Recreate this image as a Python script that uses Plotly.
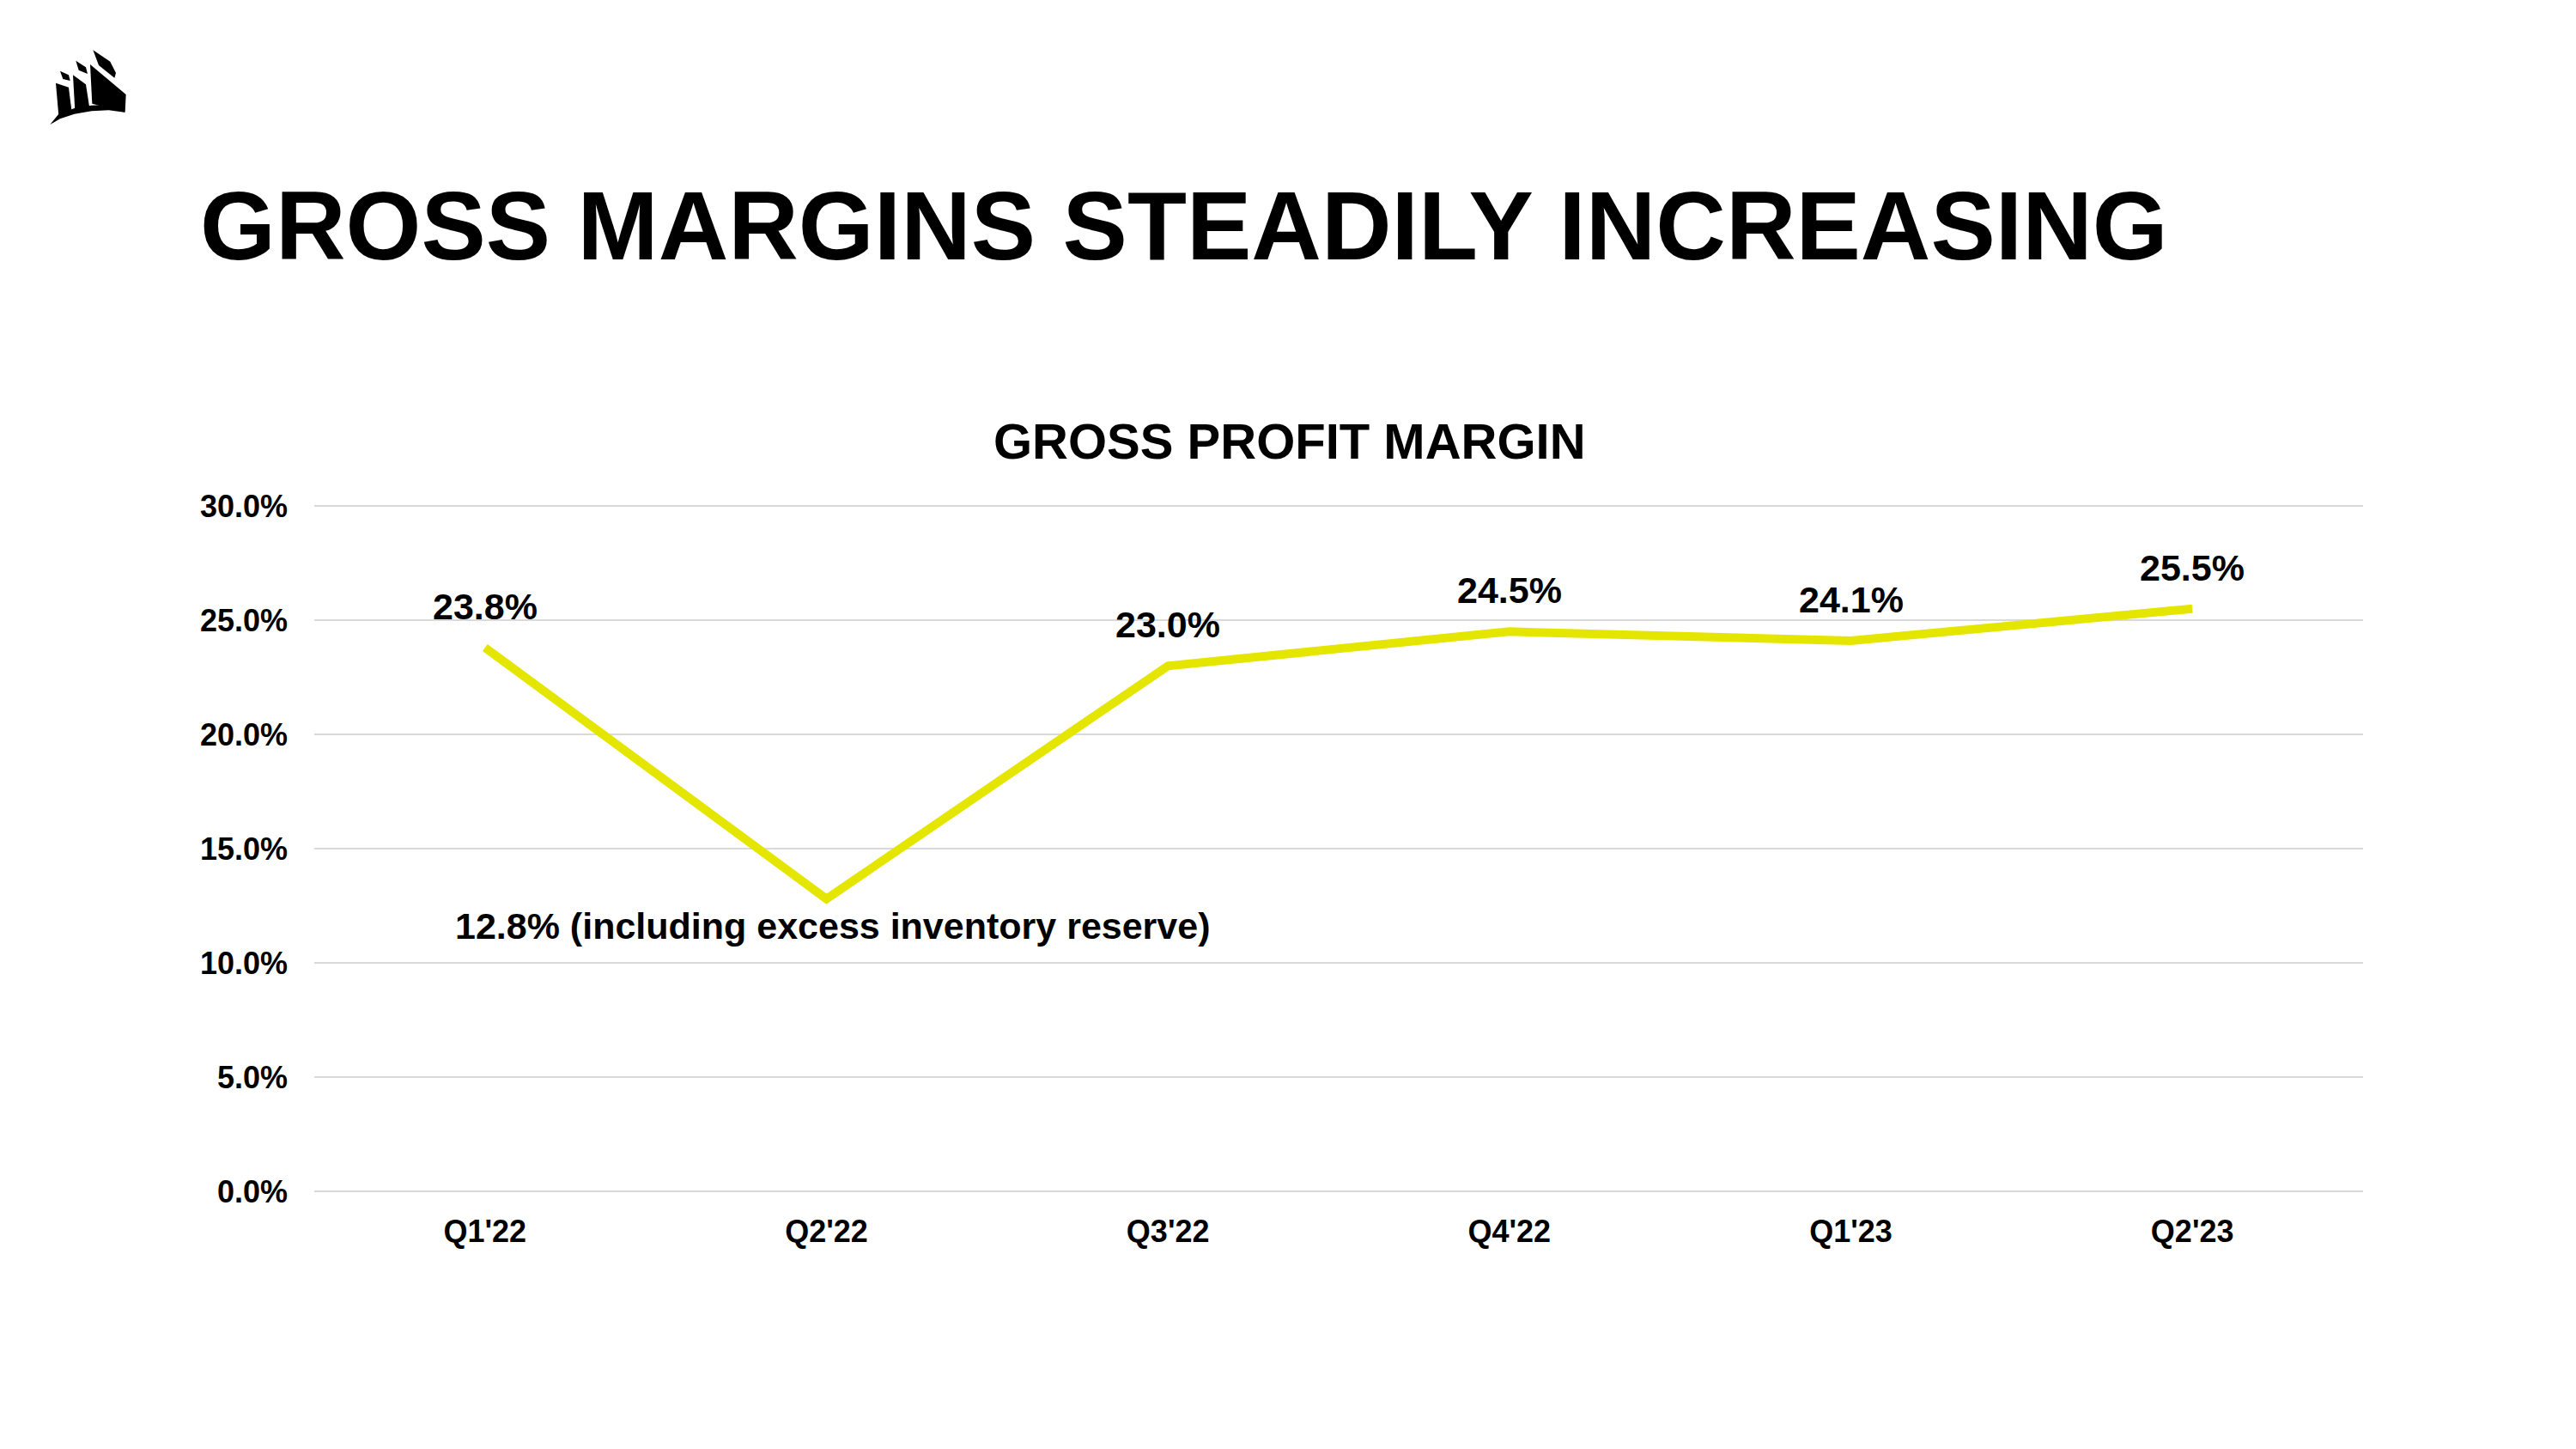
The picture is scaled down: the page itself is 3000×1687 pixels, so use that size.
import plotly.graph_objects as go

# ---- data ----
quarters = ["Q1'22", "Q2'22", "Q3'22", "Q4'22", "Q1'23", "Q2'23"]
gross_margin = [23.8, 12.8, 23.0, 24.5, 24.1, 25.5]
point_labels = ["23.8%", "12.8% (including excess inventory reserve)", "23.0%", "24.5%", "24.1%", "25.5%"]
y_ticks = [0, 5, 10, 15, 20, 25, 30]
page_title = "GROSS MARGINS STEADILY INCREASING"
chart_title = "GROSS PROFIT MARGIN"

# ---- layout geometry (pixels, compensating 8px page body margin) ----
OFF = 8
W_FIG, H_FIG = 3000, 1687
L, R, T, B = 366 - OFF, 2752 - OFF, 588 - OFF, 1387 - OFF
PW, PH = R - L, B - T


def px2x(px):
    return (px - OFF - L) / PW


def py2y(py):
    return (B - (py - OFF)) / PH


FONT = "Liberation Sans, Arial, sans-serif"
LINE_COLOR = "#E5E600"

fig = go.Figure()
fig.add_trace(go.Scatter(
    x=quarters, y=gross_margin, mode="lines",
    line=dict(color=LINE_COLOR, width=10),
    hoverinfo="skip", showlegend=False,
))

annotations = []
for i, (q, v, lab) in enumerate(zip(quarters, gross_margin, point_labels)):
    if i == 1:
        xs, ys = 7, -31
    else:
        xs, ys = 0, 48
    annotations.append(dict(
        x=q, y=v, xref="x", yref="y", text=lab, showarrow=False,
        xanchor="center", yanchor="middle", xshift=xs, yshift=ys,
        font=dict(family=FONT, size=43, color="black", weight="bold"),
    ))

annotations.append(dict(
    x=px2x(231), y=py2y(263), xref="paper", yref="paper", text=page_title,
    showarrow=False, xanchor="left", yanchor="middle",
    font=dict(family=FONT, size=113, color="black", weight="bold"),
))
annotations.append(dict(
    x=px2x(1502), y=py2y(513), xref="paper", yref="paper", text=chart_title,
    showarrow=False, xanchor="center", yanchor="middle",
    font=dict(family=FONT, size=58, color="black", weight="bold"),
))

# ---- logo (approximate sails), coordinates in pixel*3 zoom units ----
def path_from(points, closed=True):
    parts = []
    for j, (zx, zy) in enumerate(points):
        X, Y = px2x(zx / 3), py2y(zy / 3)
        parts.append(("M" if j == 0 else "L") + f"{X:.5f},{Y:.5f}")
    return " ".join(parts) + (" Z" if closed else "")

logo_polys = [
    [(195, 290), (240, 305), (250, 385), (205, 405)],
    [(255, 262), (300, 295), (312, 372), (262, 388)],
    [(315, 225), (440, 330), (437, 392), (322, 362)],
    [(325, 175), (385, 215), (405, 255), (400, 272), (345, 228)],
    [(265, 212), (300, 235), (306, 258), (275, 245)],
    [(210, 248), (240, 262), (245, 282), (220, 276)],
    [(175, 435), (210, 415), (260, 398), (320, 388), (380, 385), (435, 392),
     (435, 372), (380, 366), (320, 368), (260, 378), (205, 398)],
]
shapes = []
for poly in logo_polys:
    shapes.append(dict(type="path", xref="paper", yref="paper",
                       path=path_from(poly), fillcolor="black",
                       line=dict(width=0)))

fig.update_layout(
    width=W_FIG, height=H_FIG,
    margin=dict(l=L, r=W_FIG - R, t=T, b=H_FIG - B, pad=0),
    paper_bgcolor="white", plot_bgcolor="white",
    showlegend=False,
    annotations=annotations,
    shapes=shapes,
    xaxis=dict(
        type="category", range=[-0.5, 5.5], showgrid=False, zeroline=False,
        showline=False, ticks="", ticklabelstandoff=22,
        tickfont=dict(family=FONT, size=36, color="black", weight="bold"),
    ),
    yaxis=dict(
        range=[0, 30.04], tickvals=y_ticks,
        ticktext=[f"{v:.1f}%" for v in y_ticks],
        showgrid=True, gridcolor="#D9D9D9", gridwidth=2,
        zeroline=True, zerolinecolor="#D9D9D9", zerolinewidth=2,
        showline=False, ticks="", ticklabelstandoff=30,
        tickfont=dict(family=FONT, size=36, color="black", weight="bold"),
    ),
)

fig.write_html("out.html")
